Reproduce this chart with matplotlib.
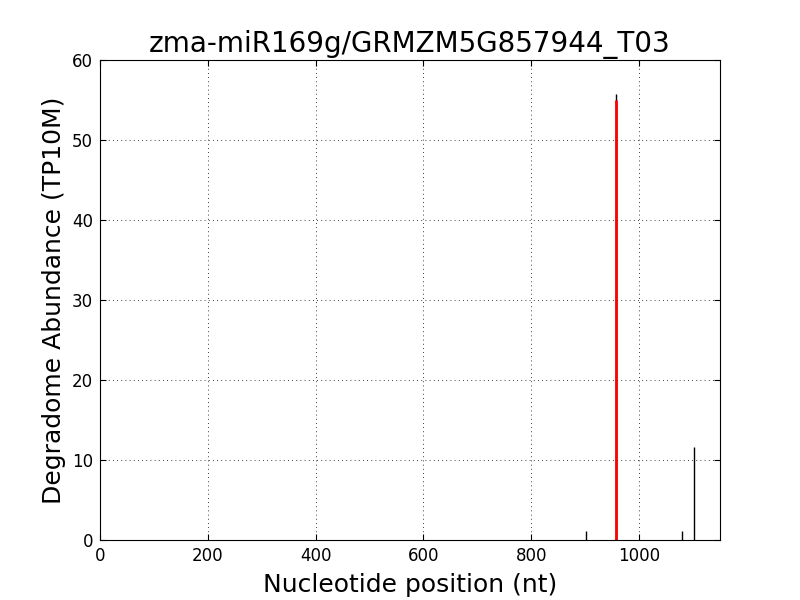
import matplotlib
matplotlib.use('Agg')
import matplotlib.pyplot as plt

# degradome reads per position
positions = [902, 957, 1080, 1102]
abundance = [1.1, 55.7, 1.1, 11.6]

# cleavage site of the miRNA
site_pos = [957]
site_abund = [55.0]

fig = plt.figure(figsize=(8, 6), dpi=100)
ax = fig.add_axes([0.125, 0.1, 0.775, 0.8])

ax.vlines(positions, 0, abundance, colors='black', linewidth=1)
ax.vlines(site_pos, 0, site_abund, colors='red', linewidth=2)

ax.set_xlim(0, 1150)
ax.set_ylim(0, 60)
ax.grid(True, color='black', linestyle=(0, (1, 4)), linewidth=0.6)
ax.set_axisbelow(True)
ax.tick_params(direction='in', top=True, right=True, labelsize=12, length=4, pad=5)

ax.set_title('zma-miR169g/GRMZM5G857944_T03', fontsize=20)
ax.set_xlabel('Nucleotide position (nt)', fontsize=18, labelpad=6)
ax.set_ylabel('Degradome Abundance (TP10M)', fontsize=18)

fig.savefig('out.png', dpi=100)
